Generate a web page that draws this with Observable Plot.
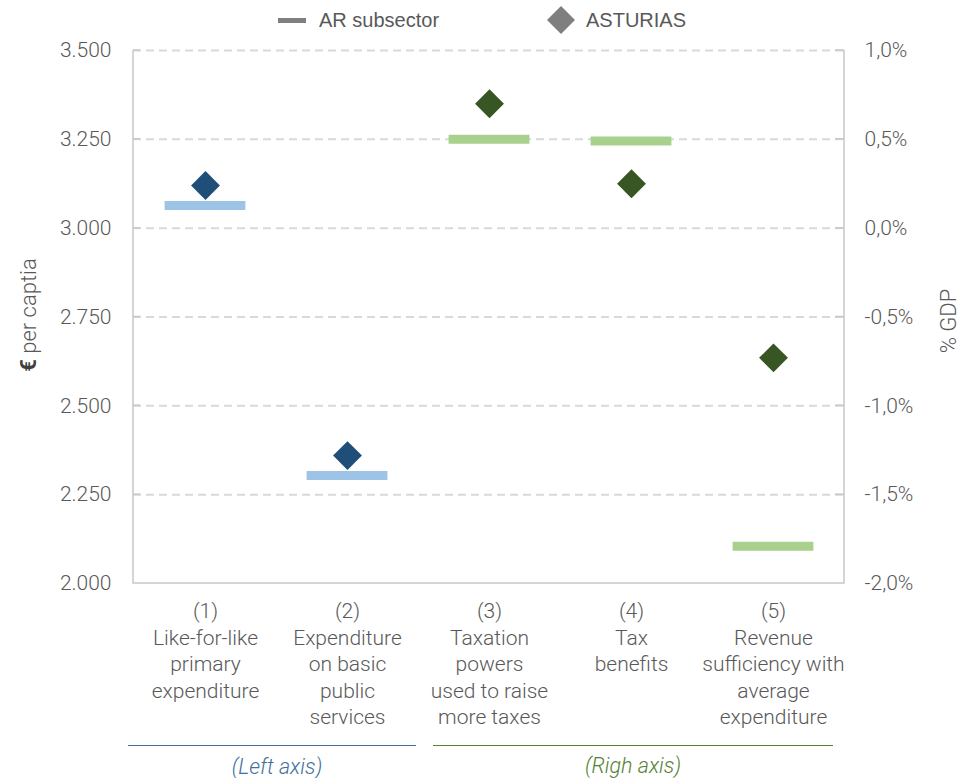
<!DOCTYPE html>
<html><head><meta charset="utf-8">
<script src="https://cdn.jsdelivr.net/npm/d3@7"></script>
<script src="https://cdn.jsdelivr.net/npm/@observablehq/plot@0.6"></script>
<style>
body{margin:0;background:#fff;}
#wrap{position:relative;width:963px;height:778px;font-family:Roboto,"Open Sans",sans-serif;font-weight:300;color:#595959;overflow:hidden;}
#chart{position:absolute;left:0;top:0;}
.abs{position:absolute;white-space:nowrap;}
.leg{font-family:"Liberation Sans",Arial,sans-serif;font-weight:400;font-size:20px;color:#595959;transform:translateY(-50%);}
.rot{transform:translate(-50%,-50%) rotate(-90deg);font-size:22px;}
.note{font-size:21.5px;font-style:italic;transform:translate(-50%,-50%);}
</style></head>
<body><div id="wrap"></div>
<script>
// ---- data ----
const keys = ["1", "2", "3", "4", "5"];
const categoryLabels = [
  ["(1)", "Like-for-like", "primary", "expenditure"],
  ["(2)", "Expenditure", "on basic", "public", "services"],
  ["(3)", "Taxation", "powers", "used to raise", "more taxes"],
  ["(4)", "Tax", "benefits"],
  ["(5)", "Revenue", "sufficiency with", "average", "expenditure"]
];
const axisSide = ["left", "left", "right", "right", "right"];
const arSubsector = [3064, 2304, 0.50, 0.49, -1.79];   // left: € per capita, right: % GDP
const asturias = [3120, 2360, 0.70, 0.25, -0.73];
const leftTicks = [2000, 2250, 2500, 2750, 3000, 3250, 3500];
const rightTicks = [-2.0, -1.5, -1.0, -0.5, 0.0, 0.5, 1.0];
const seriesNames = ["AR subsector", "ASTURIAS"];
const barColors = {left: "#9DC3E6", right: "#A9D18E"};
const diamondColors = {left: "#1F4E79", right: "#375623"};

// map right-axis (% GDP) values onto the left-axis scale
const leftDomain = d3.extent(leftTicks);
const rightDomain = d3.extent(rightTicks);
const toLeft = d3.scaleLinear().domain(rightDomain).range(leftDomain);

const rows = keys.map((k, i) => ({
  cat: k,
  side: axisSide[i],
  yAr: axisSide[i] === "left" ? arSubsector[i] : toLeft(arSubsector[i]),
  yAst: axisSide[i] === "left" ? asturias[i] : toLeft(asturias[i])
}));

const fmtLeft = v => d3.format(",")(v).replace(/,/g, ".");
const fmtRight = v => d3.format(".1f")(v).replace("−", "-").replace(".", ",") + "%";

function frameLines(index, scales, values, dims) {
  const x0 = dims.marginLeft, x1 = dims.width - dims.marginRight;
  const y0 = dims.marginTop, y1 = dims.height - dims.marginBottom;
  let d = `M${x0},${y0}V${y1}H${x1}V${y0}`;
  for (const v of leftTicks) { const y = scales.y(v); d += `M${x0},${y}h7`; }
  for (const v of rightTicks) { const y = scales.y(toLeft(v)); d += `M${x1},${y}h-9`; }
  return d3.create("svg:path").attr("d", d).attr("fill", "none")
    .attr("stroke", "#C8C8C8").attr("stroke-width", 1.5).node();
}

const chart = Plot.plot({
  width: 963, height: 778,
  marginTop: 50, marginBottom: 195, marginLeft: 133, marginRight: 119,
  style: {fontFamily: "Roboto, 'Open Sans', sans-serif", fontSize: "21px", color: "#595959", background: "transparent", overflow: "visible"},
  x: {domain: keys, padding: 0, axis: null, label: null},
  y: {domain: leftDomain, axis: null, label: null},
  marks: [
    Plot.ruleY(leftTicks.filter(v => v > leftDomain[0]), {stroke: "#D9D9D9", strokeWidth: 2, strokeDasharray: "8,5"}),
    frameLines,
    Plot.axisY(leftTicks, {anchor: "left", label: null, tickSize: 0, tickPadding: 22, tickFormat: fmtLeft, fontSize: 21, fontWeight: 300, fill: "#595959"}),
    Plot.axisY(rightTicks.map(toLeft), {anchor: "right", label: null, tickSize: 0, tickPadding: 20, tickFormat: v => fmtRight(toLeft.invert(v)), fontSize: 21, fontWeight: 300, fill: "#595959"}),
    Plot.axisX(keys, {anchor: "bottom", label: null, tickSize: 0, tickPadding: 16, lineHeight: 1.26,
      tickFormat: k => categoryLabels[keys.indexOf(k)].join("\n"), fontSize: 21, fontWeight: 300, fill: "#595959"}),
    Plot.tickY(rows, {x: "cat", y: "yAr", stroke: d => barColors[d.side], strokeWidth: 9, insetLeft: 30.6, insetRight: 30.6}),
    Plot.dot(rows, {x: "cat", y: "yAst", symbol: "diamond2", r: 13, fill: d => diamondColors[d.side], stroke: "none"})
  ]
});
chart.id = "chart";
const wrap = document.getElementById("wrap");
wrap.appendChild(chart);

function add(html, style, cls) {
  const el = document.createElement("div");
  el.className = "abs " + (cls || "");
  el.innerHTML = html;
  Object.assign(el.style, style);
  wrap.appendChild(el);
  return el;
}
// legend
add("", {left: "278px", top: "18px", width: "28px", height: "5px", background: "#7F7F7F"});
add(seriesNames[0], {left: "319px", top: "20px"}, "leg");
add('<svg width="30" height="30"><path d="M15,1L29,15L15,29L1,15Z" fill="#7F7F7F"/></svg>', {left: "546px", top: "5px", lineHeight: 0});
add(seriesNames[1], {left: "586px", top: "20px"}, "leg");
// axis titles
add('<b style="font-weight:700;color:#404040">€</b> per captia', {left: "28px", top: "315px"}, "rot");
add("% GDP", {left: "948px", top: "321px"}, "rot");
// bottom annotations
add("", {left: "128px", top: "745px", width: "288px", height: "0", borderTop: "1.5px solid #41719C"});
add("", {left: "433px", top: "745px", width: "400px", height: "0", borderTop: "1.5px solid #548235"});
add("(Left axis)", {left: "277px", top: "766px", color: "#41719C"}, "note");
add("(Righ axis)", {left: "633px", top: "765px", color: "#548235"}, "note");
</script></body></html>
